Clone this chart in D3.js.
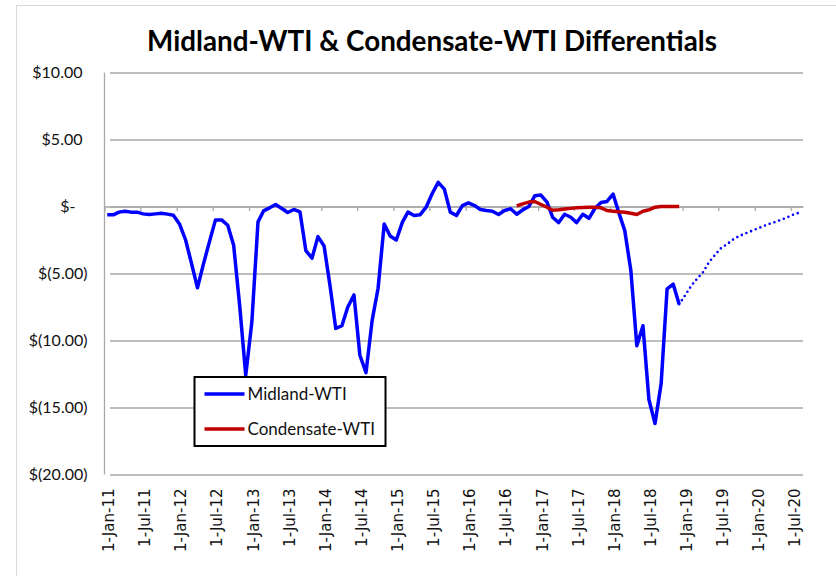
<!DOCTYPE html>
<html>
<head>
<meta charset="utf-8">
<script src="https://cdnjs.cloudflare.com/ajax/libs/d3/7.8.5/d3.min.js"></script>
<style>
    body { margin: 0; background: #fff; }
    svg { display: block; }
</style>
</head>
<body>
<svg id="chart" width="836" height="576"></svg>
<script>

// ---- DATA ---- //

// monthly differentials, $/bbl (points sit mid-month)
const midlandStart = "1-Jan-11";
const midlandValues = [
    -0.62, -0.62, -0.42, -0.35, -0.42, -0.42, -0.55, -0.6, -0.55, -0.5, -0.57, -0.65,
    -1.3, -2.5, -4.2, -6.07, -4.3, -2.6, -1.0, -1.0, -1.4, -2.9, -7.5, -12.6,
    -8.6, -1.15, -0.33, -0.1, 0.15, -0.15, -0.45, -0.22, -0.4, -3.3, -3.85, -2.25,
    -2.95, -6.0, -9.1, -8.9, -7.5, -6.6, -11.1, -12.4, -8.5, -6.1, -1.3, -2.2,
    -2.5, -1.17, -0.42, -0.67, -0.62, -0.05, 0.95, 1.8, 1.3, -0.42, -0.67, 0.07,
    0.27, 0.07, -0.22, -0.3, -0.35, -0.6, -0.3, -0.17, -0.58, -0.25, 0.0, 0.8,
    0.85, 0.32, -0.8, -1.2, -0.58, -0.8, -1.2, -0.58, -0.88, -0.15, 0.3, 0.38,
    0.92, -0.55, -1.8, -4.8, -10.4, -8.9, -14.4, -16.2, -13.2, -6.15, -5.8, -7.3
];

// dotted forward curve for Midland-WTI
const projectionStart = "1-Dec-18";
const projectionValues = [
    -7.3, -6.6, -5.9, -5.4, -4.9, -4.15, -3.6, -3.1, -2.8, -2.45, -2.2,
    -2.0, -1.83, -1.65, -1.46, -1.3, -1.15, -0.98, -0.8, -0.6, -0.45
];

const condensateStart = "1-Sep-16";
const condensateValues = [
    0.05, 0.2, 0.33, 0.37, 0.15, -0.05, -0.28, -0.25, -0.18, -0.14, -0.1, -0.08,
    -0.05, -0.05, -0.1, -0.3, -0.35, -0.4, -0.43, -0.5, -0.6, -0.35, -0.25, -0.05,
    0, 0, 0, 0
];

const xTickLabels = [
    "1-Jan-11", "1-Jul-11", "1-Jan-12", "1-Jul-12", "1-Jan-13", "1-Jul-13", "1-Jan-14",
    "1-Jul-14", "1-Jan-15", "1-Jul-15", "1-Jan-16", "1-Jul-16", "1-Jan-17", "1-Jul-17",
    "1-Jan-18", "1-Jul-18", "1-Jan-19", "1-Jul-19", "1-Jan-20", "1-Jul-20"
];
const xDomain = ["1-Jan-11", "1-Sep-20"];
const yTicks = [10, 5, 0, -5, -10, -15, -20];

const title = "Midland-WTI & Condensate-WTI Differentials";
const seriesNames = ["Midland-WTI", "Condensate-WTI"];
const seriesColors = ["#0000ff", "#c00000"];

// ---- SETUP ---- //

const svg = d3.select("#chart");
const width = +svg.attr("width");
const height = +svg.attr("height");

const margin = {
    "T": 72.5,
    "B": 101.5,
    "R": 33,
    "L": 104.5,
};

const parseDay = d3.timeParse("%d-%b-%y");

function monthly(start, values) {
    const d0 = parseDay(start);
    return values.map((v, i) => ({
        "Date": new Date(d0.getFullYear(), d0.getMonth() + i, 15),
        "Value": v
    }));
}

const midland = monthly(midlandStart, midlandValues);
const projection = monthly(projectionStart, projectionValues);
const condensate = monthly(condensateStart, condensateValues);

const xScale = d3.scaleTime()
    .domain(xDomain.map(parseDay))
    .range([margin.L, width - margin.R]);
const yScale = d3.scaleLinear()
    .domain([d3.min(yTicks), d3.max(yTicks)])
    .range([height - margin.B, margin.T]);

function money(v) {
    if (v === 0) return "$-";
    if (v < 0) return "$(" + (-v).toFixed(2) + ")";
    return "$" + v.toFixed(2);
}

// chart frame
svg.append("rect")
    .attr("x", 16.5)
    .attr("y", 5.5)
    .attr("width", width)
    .attr("height", height)
    .attr("fill", "#fff")
    .attr("stroke", "#d9d9d9");

// ---- AXES ---- //

const grid = svg.append("g")
    .attr("transform", `translate(${margin.L}, 0)`)
    .call(d3.axisLeft(yScale)
        .tickValues(yTicks)
        .tickSize(-(width - margin.R - margin.L))
        .tickPadding(17)
        .tickFormat(money));
grid.select(".domain").remove();
grid.selectAll(".tick line")
    .attr("x1", 5.5)
    .attr("stroke", "#a9a9a9")
    .attr("stroke-width", 1.3);
grid.selectAll(".tick text")
    .attr("dx", d => d > 0 ? -5 : (d === 0 ? -12 : 0))
    .attr("fill", "#111")
    .style("font-family", "Lato, 'Open Sans', sans-serif")
    .style("font-size", "16px");

svg.append("line")
    .attr("x1", margin.L)
    .attr("x2", margin.L)
    .attr("y1", yScale(d3.max(yTicks)))
    .attr("y2", yScale(d3.min(yTicks)))
    .attr("stroke", "#a9a9a9")
    .attr("stroke-width", 1.3);

const xTicks = xTickLabels.map(parseDay);

// tick marks sit on the zero line
const zeroAxis = svg.append("g")
    .attr("transform", `translate(0, ${yScale(0)})`)
    .call(d3.axisBottom(xScale)
        .tickValues(xTicks)
        .tickSize(4.5)
        .tickSizeOuter(0)
        .tickFormat(""));
zeroAxis.select(".domain")
    .attr("stroke", "#a9a9a9")
    .attr("stroke-width", 1.3);
zeroAxis.selectAll(".tick line")
    .attr("stroke", "#a9a9a9")
    .attr("stroke-width", 1.3);

// labels sit below the plot
const labelAxis = svg.append("g")
    .attr("transform", `translate(0, ${height - margin.B})`)
    .call(d3.axisBottom(xScale)
        .tickValues(xTicks)
        .tickSize(0)
        .tickFormat((d, i) => xTickLabels[i]));
labelAxis.select(".domain").remove();
labelAxis.selectAll(".tick text")
    .attr("transform", "rotate(-90)")
    .attr("text-anchor", "end")
    .attr("x", -14)
    .attr("y", 4)
    .attr("dy", "0.35em")
    .attr("fill", "#111")
    .style("font-family", "'DejaVu Sans', sans-serif")
    .style("font-size", "15px");

// ---- LINES ---- //

const line = d3.line()
    .x(d => xScale(d.Date))
    .y(d => yScale(d.Value));

svg.append("path")
    .attr("d", line(projection))
    .attr("fill", "none")
    .attr("stroke", seriesColors[0])
    .attr("stroke-width", 2.6)
    .attr("stroke-linecap", "round")
    .attr("stroke-dasharray", "0 5");

svg.append("path")
    .attr("d", line(midland))
    .attr("fill", "none")
    .attr("stroke", seriesColors[0])
    .attr("stroke-width", 3.5)
    .attr("stroke-linejoin", "round");

svg.append("path")
    .attr("d", line(condensate))
    .attr("fill", "none")
    .attr("stroke", seriesColors[1])
    .attr("stroke-width", 3.5)
    .attr("stroke-linejoin", "round");

// ---- TITLE ---- //

const titleText = svg.append("text")
    .attr("x", 432)
    .attr("y", 51)
    .attr("text-anchor", "middle")
    .style("font-family", "Lato, 'Open Sans', sans-serif")
    .style("font-weight", "bold")
    .style("font-size", "30px")
    .text(title);
const titleWidth = titleText.node().getComputedTextLength();
titleText.style("font-size", (30 * 570 / titleWidth) + "px");

// ---- LEGEND ---- //

const legend = svg.append("g")
    .attr("transform", "translate(194.5, 377)");

legend.append("rect")
    .attr("width", 191)
    .attr("height", 69)
    .attr("fill", "#fff")
    .attr("stroke", "#000")
    .attr("stroke-width", 2);

seriesNames.forEach((name, i) => {
    const row = legend.append("g")
        .attr("transform", `translate(0, ${17 + i * 35})`);
    row.append("line")
        .attr("x1", 10)
        .attr("x2", 50)
        .attr("stroke", seriesColors[i])
        .attr("stroke-width", 3.5);
    row.append("text")
        .attr("x", 53)
        .attr("dy", "0.35em")
        .attr("fill", "#111")
        .style("font-family", "Lato, 'Open Sans', sans-serif")
        .style("font-size", "17px")
        .text(name);
});

</script>
</body>
</html>
